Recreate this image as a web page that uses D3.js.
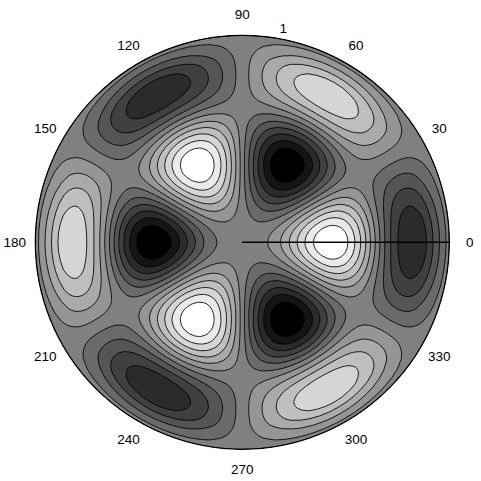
<!DOCTYPE html>
<html><head><meta charset="utf-8">
<script src="https://cdn.jsdelivr.net/npm/d3@7"></script>
<style>html,body{margin:0;padding:0;background:#fff}svg{display:block}text{font-family:"Liberation Sans",Arial,sans-serif;font-size:13.5px;fill:#000}</style>
</head><body><svg id="c" width="481" height="481"></svg>
<script>
const radialProfile = [
0,.0001,.0006,.002,.0047,.0089,.015,.0236,.0345,.0475,.063,.0817,.103,.1266,.152,.1786,
.206,.2339,.262,.2899,.317,.3426,.366,.3866,.404,.418,.428,.4336,.434,.428,.417,.4024,
.383,.3572,.327,.2942,.258,.2179,.175,.1301,.084,.0373,-.009,-.0543,-.097,-.1352,-.170,-.2026,
-.231,-.2531,-.272,-.2828,-.290,-.2904,-.285,-.2743,-.258,-.233,-.2,-.166,-.133,-.10,-.067,-.033,0];
// Angular profile round the circle, 3 degree samples from 0 to 360.
const angularProfile = [
1,.988,.951,.891,.809,.707,.588,.454,.309,.156,0,-.156,-.309,-.454,-.588,-.707,-.809,-.891,-.951,-.988,-1,-.988,-.951,-.891,-.809,-.707,-.588,-.454,-.309,-.156,0,.156,.309,.454,.588,.707,.809,.891,.951,.988,
1,.988,.951,.891,.809,.707,.588,.454,.309,.156,0,-.156,-.309,-.454,-.588,-.707,-.809,-.891,-.951,-.988,-1,-.988,-.951,-.891,-.809,-.707,-.588,-.454,-.309,-.156,0,.156,.309,.454,.588,.707,.809,.891,.951,.988,
1,.988,.951,.891,.809,.707,.588,.454,.309,.156,0,-.156,-.309,-.454,-.588,-.707,-.809,-.891,-.951,-.988,-1,-.988,-.951,-.891,-.809,-.707,-.588,-.454,-.309,-.156,0,.156,.309,.454,.588,.707,.809,.891,.951,.988,
1];
const contourLevels = [-.366,-.30,-.233,-.166,-.10,-.033,.033,.10,.166,.233,.30,.366];
const bandGrays = [0,21,43,64,85,106,128,149,170,191,213,234,255];
const angleTicks = [0,30,60,90,120,150,180,210,240,270,300,330];
const radialTicks = [1];

const cx = 242.3, cy = 242.3, R = 207;
const nr = radialProfile.length, na = angularProfile.length;
const svg = d3.select("#c");
const rScale = d3.scaleLinear().domain([0, nr-1]).range([0, R]).clamp(true);
const aScale = d3.scaleLinear().domain([0, na-1]).range([0, 2*Math.PI]).clamp(true);
const rUnit = d3.scaleLinear().domain([0,1]).range([0,R]);
const project = (deg, r) => [cx + r*Math.cos(deg*Math.PI/180), cy - r*Math.sin(deg*Math.PI/180)];

const grid = [];
for (const rv of radialProfile) for (const av of angularProfile) grid.push(rv*av);

const polar = d3.geoTransform({point(x,y){
  const a = aScale(x-.5), r = rScale(y-.5);
  this.stream.point(cx + r*Math.cos(a), cy - r*Math.sin(a));
}});
const path = d3.geoPath(polar);
const gen = d3.contours().size([na,nr]).thresholds(contourLevels).smooth(true);

svg.append("clipPath").attr("id","disc").append("circle").attr("cx",cx).attr("cy",cy).attr("r",R);
const g = svg.append("g").attr("clip-path","url(#disc)");
g.append("circle").attr("cx",cx).attr("cy",cy).attr("r",R).attr("fill",d3.rgb(bandGrays[0],bandGrays[0],bandGrays[0]));
g.selectAll("path").data(gen(grid)).join("path")
  .attr("d",path)
  .attr("fill-rule","evenodd")
  .attr("fill",(d,i)=>{const v=bandGrays[i+1];return d3.rgb(v,v,v)})
  .attr("stroke","#000").attr("stroke-width",1).attr("stroke-opacity",.85);

svg.append("circle").attr("cx",cx).attr("cy",cy).attr("r",R).attr("fill","none").attr("stroke","#000").attr("stroke-width",1.2);
svg.append("line").attr("x1",cx).attr("y1",cy).attr("x2",cx+rUnit(1)).attr("y2",cy).attr("stroke","#000").attr("stroke-width",1.2);

svg.selectAll("text.a").data(angleTicks).join("text").attr("class","a")
  .attr("text-anchor","middle").attr("dominant-baseline","central")
  .attr("x",d=>project(d,rUnit(1)+20.5)[0]).attr("y",d=>project(d,rUnit(1)+20.5)[1]).text(d=>d);
svg.selectAll("text.r").data(radialTicks).join("text").attr("class","r")
  .attr("text-anchor","middle").attr("dominant-baseline","central")
  .attr("x",d=>project(79.2,rUnit(d)+11)[0]).attr("y",d=>project(79.2,rUnit(d)+11)[1]).text(d=>d);
</script></body></html>
